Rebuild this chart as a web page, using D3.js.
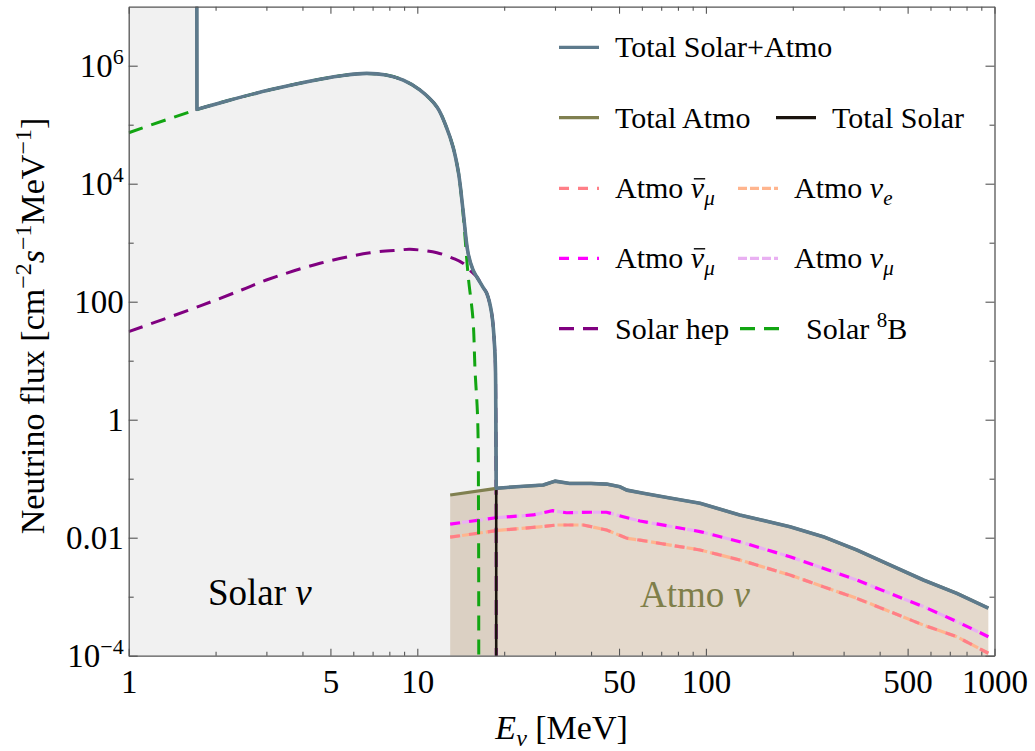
<!DOCTYPE html>
<html>
<head>
<meta charset="utf-8">
<script src="https://cdn.jsdelivr.net/npm/d3@7"></script>
<style>
  body { margin: 0; background: #fff; }
  svg text { font-family: "Liberation Serif", "Times New Roman", serif; }
</style>
</head>
<body>
<svg id="chart" width="1035" height="751"></svg>
<script>
// ---- Energies (MeV) and fluxes (cm^-2 s^-1 MeV^-1) ----
const solarE       = [1, 1.72, 1.724, 2.2, 3.09, 4.6, 5.6, 6.68, 7.8, 8.94, 10.2, 11.7, 12.6, 13.3, 13.9, 14.4, 15.0, 15.6, 16.06, 16.9, 17.4, 18.1, 18.58, 18.7, 18.77, 18.77];
const solarFlux    = [1e9, 1e9, 1.82e5, 2.55e5, 3.9e5, 5.9e5, 6.9e5, 7.4e5, 6.95e5, 5.7e5, 3.9e5, 2.0e5, 9.2e4, 4.2e4, 1.5e4, 3.6e3, 661, 344, 265, 175, 139, 63.5, 13.3, 1.9, 0.0687, 1e-6];

const totalE       = [1, 1.72, 1.724, 2.2, 3.09, 4.6, 5.6, 6.68, 7.8, 8.94, 10.2, 11.7, 12.6, 13.3, 13.9, 14.4, 15.0, 15.6, 16.06, 16.9, 17.4, 18.1, 18.58, 18.7, 18.77,
                      22, 27.3, 30, 33.8, 40, 45.3, 50.4, 53.2, 60.7, 75, 95.4, 131, 195.6, 255, 333, 434, 567, 740, 952];
const totalFlux    = [1e9, 1e9, 1.82e5, 2.55e5, 3.9e5, 5.9e5, 6.9e5, 7.4e5, 6.95e5, 5.7e5, 3.9e5, 2.0e5, 9.2e4, 4.2e4, 1.5e4, 3.6e3, 661, 344, 265, 175, 139, 63.5, 13.3, 1.9, 0.0687,
                      0.073, 0.078, 0.091, 0.083, 0.083, 0.081, 0.073, 0.064, 0.0566, 0.047, 0.0383, 0.0243, 0.0153, 0.0104, 0.0062, 0.00345, 0.00192, 0.00114, 6.4e-4];

const atmoE        = [13.0, 18.77, 22, 27.3, 30, 33.8, 40, 45.3, 50.4, 53.2, 60.7, 75, 95.4, 131, 195.6, 255, 333, 434, 567, 740, 952];
const atmoFlux     = [0.053, 0.0687, 0.073, 0.078, 0.091, 0.083, 0.083, 0.081, 0.073, 0.064, 0.0566, 0.047, 0.0383, 0.0243, 0.0153, 0.0104, 0.0062, 0.00345, 0.00192, 0.00114, 6.4e-4];

const b8E          = [1, 1.72, 2.2, 3.09, 4.6, 5.6, 6.68, 7.8, 8.94, 10.2, 11.7, 12.6, 13.3, 13.9, 14.4, 15.0, 15.6, 15.85, 16.19, 16.3, 16.33];
const b8Flux       = [7.3e4, 1.8e5, 2.55e5, 3.9e5, 5.9e5, 6.9e5, 7.4e5, 6.95e5, 5.7e5, 3.9e5, 2.0e5, 9.2e4, 4.2e4, 1.5e4, 3.2e3, 280, 49, 7, 1.0, 0.02, 1e-5];

const hepE         = [1, 1.77, 2.46, 3.0, 4.6, 6.86, 8.71, 9.43, 11.7, 13.3, 14.4, 15.4, 16.06, 16.9, 17.4, 18.1, 18.58, 18.7, 18.77];
const hepFlux      = [31, 85, 158, 233, 448, 676, 752, 773, 676, 543, 448, 322, 265, 175, 139, 63.5, 13.3, 1.9, 1e-6];

const atmoMuE      = [13.0, 18.77, 25.2, 29.4, 32.9, 40, 45.3, 51.7, 59.1, 95.4, 131, 195.6, 255, 333, 434, 567, 740, 952];
const atmoNuMuBar  = [0.017, 0.0218, 0.0243, 0.0287, 0.0265, 0.027, 0.027, 0.0227, 0.0192, 0.0127, 0.00855, 0.00476, 0.00303, 0.00192, 0.00114, 6.8e-4, 3.8e-4, 2.1e-4];
const atmoNuMu     = [0.017, 0.0218, 0.0243, 0.0287, 0.0265, 0.027, 0.027, 0.0227, 0.0192, 0.0127, 0.00855, 0.00476, 0.00303, 0.00192, 0.00114, 6.8e-4, 3.8e-4, 2.1e-4];

const atmoEE       = [13.0, 18.77, 26.6, 30.4, 37.6, 45.3, 53.2, 59.1, 95.4, 131, 195.6, 255, 333, 434, 567, 740, 952];
const atmoNuBarLow = [0.0102, 0.0132, 0.0153, 0.0164, 0.0164, 0.0135, 0.0098, 0.0091, 0.0062, 0.0042, 0.00233, 0.00148, 9.4e-4, 5.6e-4, 3.3e-4, 2.1e-4, 1.1e-4];
const atmoNuE      = [0.0102, 0.0132, 0.0153, 0.0164, 0.0164, 0.0135, 0.0098, 0.0091, 0.0062, 0.0042, 0.00233, 0.00148, 9.4e-4, 5.6e-4, 3.3e-4, 2.1e-4, 1.1e-4];

// ---- Ticks ----
const xMajorTicks = [1, 5, 10, 50, 100, 500, 1000];
const xTickLabels = ["1", "5", "10", "50", "100", "500", "1000"];
const xMinorTicks = [2, 3, 4, 6, 7, 8, 9, 20, 30, 40, 60, 70, 80, 90, 200, 300, 400, 600, 700, 800, 900];
const yMajorTicks = [1e-4, 1e-2, 1, 100, 1e4, 1e6];
const yTickBase   = ["10", "0.01", "1", "100", "10", "10"];
const yTickExp    = ["\u22124", "", "", "", "4", "6"];
const yMinorTicks = [1e-3, 1e-1, 10, 1e3, 1e5];

// ---- Layout ----
const svg = d3.select("#chart");
const pLeft = 128.7, pRight = 994.5, pTop = 6.7, pBottom = 655.7;
const x = d3.scaleLog().domain([1, 1000]).range([pLeft, pRight]);
const y = d3.scaleLog().domain([1e-4, 1e7]).range([pBottom, pTop]);
const zip = (a, b) => a.map((v, i) => [v, b[i]]);

svg.append("defs").append("clipPath").attr("id", "plot-clip")
  .append("rect").attr("x", pLeft).attr("y", pTop).attr("width", pRight - pLeft).attr("height", pBottom - pTop);

const plot = svg.append("g").attr("clip-path", "url(#plot-clip)");

const yv = v => y(Math.max(v, 1e-8));
const lineSmooth = d3.line().x(d => x(d[0])).y(d => yv(d[1])).curve(d3.curveCatmullRom.alpha(0.5));
const lineLinear = d3.line().x(d => x(d[0])).y(d => yv(d[1]));

// Joins straight and smoothed stretches into one continuous path.
// spans: [startIndex, endIndex, generator]; consecutive spans share their end point.
function piecewise(pts, spans) {
  return spans.map(([a, b, gen], k) => {
    const d = gen(pts.slice(a, b + 1));
    return k === 0 ? d : d.replace(/^M/, "L");
  }).join("");
}
const iE = (arr, v) => arr.indexOf(v);

const solarPts = zip(solarE, solarFlux);
const solarPath = piecewise(solarPts, [
  [0, 2, lineLinear],
  [2, iE(solarE, 18.7), lineSmooth],
  [iE(solarE, 18.7), solarPts.length - 1, lineLinear]
]);
const totalPts = zip(totalE, totalFlux);
const totalPath = piecewise(totalPts, [
  [0, 2, lineLinear],
  [2, iE(totalE, 18.7), lineSmooth],
  [iE(totalE, 18.7), totalPts.length - 1, lineLinear]
]);

// shaded regions
plot.append("path").attr("d", solarPath + `L${x(18.77)},${pBottom}L${pLeft},${pBottom}Z`).attr("fill", "#f1f1f1");
plot.append("path")
  .attr("d", d3.area().x(d => x(d[0])).y0(pBottom).y1(d => yv(d[1]))(zip(atmoE, atmoFlux)))
  .attr("fill", "rgb(179,151,115)").attr("fill-opacity", 0.36);

// atmospheric components
const atmoLines = [
  { e: atmoMuE, f: atmoNuMu,     color: "#e9b0f2", dash: "9,3" },
  { e: atmoMuE, f: atmoNuMuBar,  color: "#ff00ff", dash: "10,9" },
  { e: atmoEE,  f: atmoNuE,      color: "#ffb58e", dash: "9,3" },
  { e: atmoEE,  f: atmoNuBarLow, color: "#ff7f87", dash: "10,9" }
];
atmoLines.forEach(s => {
  plot.append("path").attr("d", lineLinear(zip(s.e, s.f)))
    .attr("fill", "none").attr("stroke", s.color).attr("stroke-width", 3.2)
    .attr("stroke-dasharray", s.dash);
});

// solar components
plot.append("path").attr("d", lineSmooth(zip(hepE, hepFlux)))
  .attr("fill", "none").attr("stroke", "#800080").attr("stroke-width", 3).attr("stroke-dasharray", "15,9");
plot.append("path").attr("d", lineSmooth(zip(b8E, b8Flux)))
  .attr("fill", "none").attr("stroke", "#12a512").attr("stroke-width", 3).attr("stroke-dasharray", "15,9");

// totals
plot.append("path").attr("d", solarPath)
  .attr("fill", "none").attr("stroke", "#1a140e").attr("stroke-width", 2.6);
plot.append("path").attr("d", lineLinear(zip(atmoE, atmoFlux)))
  .attr("fill", "none").attr("stroke", "#808050").attr("stroke-width", 3.2);
plot.append("path").attr("d", totalPath)
  .attr("fill", "none").attr("stroke", "#5d7a8c").attr("stroke-width", 3.6).attr("stroke-linejoin", "round");

// region labels
svg.append("text").attr("x", 208).attr("y", 605).attr("font-size", 37).attr("fill", "#000")
  .call(t => { t.append("tspan").text("Solar "); t.append("tspan").attr("font-style", "italic").text("\u03bd"); });
svg.append("text").attr("x", 640).attr("y", 607).attr("font-size", 37).attr("fill", "#7f7f4a")
  .call(t => { t.append("tspan").text("Atmo "); t.append("tspan").attr("font-style", "italic").text("\u03bd"); });

// ---- Axes / frame ----
const axisColor = "#555";
function styleAxis(g) {
  g.attr("color", axisColor);
  g.select(".domain").attr("stroke-width", 1.3);
  g.selectAll(".tick line").attr("stroke-width", 1.1);
  g.selectAll("text").attr("fill", "#000");
}
const fs = 33;

const gx = svg.append("g").attr("transform", `translate(0,${pBottom})`)
  .call(d3.axisBottom(x).tickValues(xMajorTicks).tickSizeInner(-7).tickSizeOuter(0).tickPadding(14)
    .tickFormat((d, i) => xTickLabels[i]))
  .call(styleAxis);
gx.selectAll("text").attr("font-size", fs).attr("font-family", null);
svg.append("g").attr("transform", `translate(0,${pBottom})`)
  .call(d3.axisBottom(x).tickValues(xMinorTicks).tickSize(-4).tickFormat(""))
  .call(styleAxis).call(g => g.select(".domain").remove());

svg.append("g").attr("transform", `translate(0,${pTop})`)
  .call(d3.axisTop(x).tickValues(xMajorTicks).tickSizeInner(-7).tickSizeOuter(0).tickFormat(""))
  .call(styleAxis);
svg.append("g").attr("transform", `translate(0,${pTop})`)
  .call(d3.axisTop(x).tickValues(xMinorTicks).tickSize(-4).tickFormat(""))
  .call(styleAxis).call(g => g.select(".domain").remove());

const gy = svg.append("g").attr("transform", `translate(${pLeft},0)`)
  .call(d3.axisLeft(y).tickValues(yMajorTicks).tickSizeInner(-9).tickSizeOuter(0).tickPadding(5).tickFormat(""))
  .call(styleAxis);
gy.selectAll(".tick text").each(function(d, i) {
  const t = d3.select(this).attr("font-size", fs).attr("font-family", null).attr("dy", "0.34em");
  t.append("tspan").text(yTickBase[i]);
  if (yTickExp[i]) t.append("tspan").attr("font-size", 22).attr("dy", "-0.62em").text(yTickExp[i]);
});
svg.append("g").attr("transform", `translate(${pLeft},0)`)
  .call(d3.axisLeft(y).tickValues(yMinorTicks).tickSize(-5).tickFormat(""))
  .call(styleAxis).call(g => g.select(".domain").remove());

svg.append("g").attr("transform", `translate(${pRight},0)`)
  .call(d3.axisRight(y).tickValues(yMajorTicks).tickSizeInner(-9).tickSizeOuter(0).tickFormat(""))
  .call(styleAxis);
svg.append("g").attr("transform", `translate(${pRight},0)`)
  .call(d3.axisRight(y).tickValues(yMinorTicks).tickSize(-5).tickFormat(""))
  .call(styleAxis).call(g => g.select(".domain").remove());

// axis titles
svg.append("text").attr("x", (pLeft + pRight) / 2).attr("y", 739).attr("text-anchor", "middle").attr("font-size", 34)
  .call(t => {
    t.append("tspan").attr("font-style", "italic").text("E");
    t.append("tspan").attr("font-style", "italic").attr("font-size", 24).attr("dy", 7).text("\u03bd");
    t.append("tspan").attr("dy", -7).text(" [MeV]");
  });

svg.append("text").attr("transform", "translate(44,326) rotate(-90)").attr("text-anchor", "middle").attr("font-size", 34)
  .call(t => {
    t.append("tspan").text("Neutrino flux [cm");
    t.append("tspan").attr("font-size", 24).attr("dy", -13).text("\u22122");
    t.append("tspan").attr("dy", 13).attr("font-style", "italic").text("s");
    t.append("tspan").attr("font-size", 24).attr("dy", -13).text("\u22121");
    t.append("tspan").attr("dy", 13).text("MeV");
    t.append("tspan").attr("font-size", 24).attr("dy", -13).text("\u22121");
    t.append("tspan").attr("dy", 13).text("]");
  });

// ---- Legend ----
const legendRows = [47.3, 117.7, 188.3, 258.3, 328.7];
const legendItems = [
  { row: 0, col: 0, color: "#5d7a8c", dash: null,   parts: [["Total Solar+Atmo"]] },
  { row: 1, col: 0, color: "#808050", dash: null,   parts: [["Total Atmo"]] },
  { row: 1, col: 2, color: "#1a140e", dash: null,   parts: [["Total Solar"]] },
  { row: 2, col: 0, color: "#ff7f87", dash: "10,9", parts: [["Atmo "], ["\u03bd", "bar"], ["\u03bc", "sub"]] },
  { row: 2, col: 1, color: "#ffb58e", dash: "9,3",  parts: [["Atmo "], ["\u03bd", "i"], ["e", "sub"]] },
  { row: 3, col: 0, color: "#ff00ff", dash: "10,9", parts: [["Atmo "], ["\u03bd", "bar"], ["\u03bc", "sub"]] },
  { row: 3, col: 1, color: "#e9b0f2", dash: "9,3",  parts: [["Atmo "], ["\u03bd", "i"], ["\u03bc", "sub"]] },
  { row: 4, col: 0, color: "#800080", dash: "15,9", parts: [["Solar hep"]] },
  { row: 4, col: 3, color: "#12a512", dash: "15,9", parts: [["Solar "], ["8", "sup"], ["B"]] }
];
const colX = [[559, 615], [738, 794], [776, 832], [740, 806]];
const legend = svg.append("g");
legendItems.forEach(it => {
  const yy = legendRows[it.row];
  const [lx, tx] = colX[it.col];
  legend.append("line").attr("x1", lx).attr("x2", lx + 40).attr("y1", yy).attr("y2", yy)
    .attr("stroke", it.color).attr("stroke-width", 3.2).attr("stroke-dasharray", it.dash);
  const t = legend.append("text").attr("x", tx).attr("y", yy + 10).attr("font-size", 30).attr("fill", "#000");
  let shift = 0, charIndex = 0, barIndex = -1;
  it.parts.forEach(([s, kind]) => {
    const sp = t.append("tspan").text(s);
    let target = 0;
    if (kind === "i" || kind === "bar") sp.attr("font-style", "italic");
    if (kind === "bar") barIndex = charIndex;
    if (kind === "sub") { sp.attr("font-style", "italic").attr("font-size", 21); target = 7; }
    if (kind === "sup") { sp.attr("font-size", 21); target = -12; }
    if (target !== shift) { sp.attr("dy", target - shift); shift = target; }
    charIndex += s.length;
  });
  if (barIndex >= 0) {
    // overbar for antineutrino
    const ext = t.node().getExtentOfChar(barIndex);
    legend.append("line")
      .attr("x1", ext.x + 3).attr("x2", ext.x + ext.width + 1)
      .attr("y1", yy - 9.5).attr("y2", yy - 9.5)
      .attr("stroke", "#000").attr("stroke-width", 1.4);
  }
});
</script>
</body>
</html>
